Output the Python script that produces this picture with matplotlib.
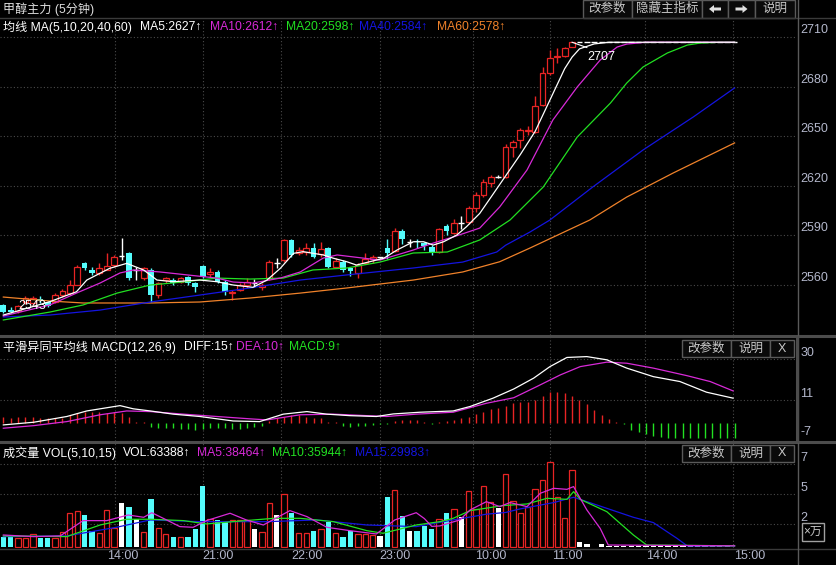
import numpy as np
import matplotlib.pyplot as plt
import matplotlib.transforms as mtrans
from matplotlib.patches import Rectangle, Polygon
from matplotlib.lines import Line2D

plt.rcParams['font.family'] = ['Liberation Sans', 'Noto Sans CJK SC', 'DejaVu Sans']

# ---- 5 minute bars (index = bar number) ----
opens = [2547.8, 2544.7, 2544.0, 2549.8, 2548.8, 2551.5, 2549.8, 2549.8, 2553.8, 2554.8,
         2559.9, 2573.0, 2569.0, 2567.0, 2569.0, 2572.0, 2577.4, 2579.0, 2569.0, 2564.0,
         2569.0, 2553.8, 2562.9, 2562.9, 2561.9, 2564.9, 2560.9, 2571.4, 2566.5, 2568.0,
         2561.9, 2554.8, 2556.8, 2559.9, 2560.9, 2558.5, 2563.9, 2573.0, 2575.0, 2587.1,
         2579.5, 2580.1, 2582.1, 2578.7, 2582.1, 2571.0, 2574.0, 2570.0, 2567.4, 2573.0,
         2575.4, 2576.7, 2582.1, 2580.7, 2592.8, 2586.1, 2586.3, 2585.1, 2583.1, 2580.1,
         2595.6, 2591.6, 2597.3, 2598.0, 2606.4, 2614.4, 2621.5, 2625.6, 2625.6, 2643.7,
         2647.8, 2653.5, 2652.8, 2669.0, 2688.2, 2697.9, 2698.9, 2704.0] + [2707.0] * 22
highs = [2548.5, 2546.7, 2548.0, 2553.0, 2553.0, 2553.0, 2550.5, 2554.8, 2557.2, 2562.9,
         2572.0, 2574.0, 2571.0, 2573.0, 2579.0, 2578.0, 2588.1, 2580.0, 2571.0, 2571.0,
         2570.0, 2562.0, 2565.0, 2564.0, 2565.0, 2565.5, 2562.0, 2572.0, 2570.0, 2569.0,
         2562.9, 2556.8, 2561.0, 2563.9, 2563.3, 2561.0, 2575.0, 2576.0, 2588.0, 2588.0,
         2583.1, 2585.1, 2585.1, 2586.1, 2583.0, 2576.0, 2575.0, 2571.0, 2573.0, 2579.5,
         2578.1, 2577.0, 2587.6, 2594.2, 2593.6, 2587.6, 2587.6, 2586.1, 2584.1, 2594.5,
         2596.9, 2599.7, 2601.7, 2607.5, 2616.5, 2624.0, 2626.6, 2626.5, 2645.4, 2647.8,
         2654.9, 2656.3, 2674.4, 2692.2, 2702.3, 2703.3, 2704.3, 2707.0] + [2707.0] * 22
lows = [2542.7, 2542.7, 2543.0, 2548.5, 2547.5, 2549.0, 2546.5, 2548.8, 2552.8, 2553.8,
        2559.9, 2569.0, 2566.0, 2566.0, 2569.0, 2571.0, 2575.0, 2563.0, 2563.0, 2563.0,
        2549.8, 2551.8, 2561.0, 2560.0, 2560.9, 2560.0, 2555.8, 2564.0, 2565.0, 2561.0,
        2553.8, 2550.8, 2556.0, 2557.8, 2558.9, 2557.0, 2563.0, 2570.0, 2574.0, 2577.0,
        2578.1, 2578.1, 2576.1, 2577.1, 2570.0, 2570.0, 2568.0, 2565.3, 2563.9, 2572.6,
        2573.0, 2576.5, 2575.4, 2580.1, 2584.7, 2583.1, 2582.1, 2581.1, 2578.1, 2579.5,
        2590.2, 2590.8, 2593.6, 2597.0, 2604.4, 2613.4, 2619.5, 2625.0, 2624.6, 2637.7,
        2642.7, 2650.8, 2651.8, 2668.4, 2687.2, 2694.2, 2698.3, 2703.9] + [2707.0] * 22
closes = [2543.7, 2543.5, 2547.0, 2551.8, 2551.8, 2550.0, 2547.1, 2553.8, 2556.2, 2559.9,
          2571.0, 2570.0, 2567.0, 2570.0, 2571.4, 2577.0, 2577.4, 2564.0, 2569.0, 2570.0,
          2553.8, 2560.9, 2563.9, 2560.9, 2563.9, 2560.9, 2558.9, 2564.9, 2568.0, 2562.0,
          2555.8, 2555.8, 2559.9, 2561.9, 2560.9, 2559.9, 2574.0, 2573.0, 2587.1, 2578.1,
          2581.1, 2582.1, 2577.1, 2581.5, 2571.0, 2574.6, 2569.0, 2568.6, 2572.0, 2575.4,
          2576.7, 2576.7, 2579.5, 2592.8, 2587.6, 2586.1, 2586.0, 2583.5, 2580.1, 2593.6,
          2592.8, 2597.7, 2597.3, 2606.5, 2614.4, 2622.5, 2625.2, 2625.6, 2643.7, 2646.4,
          2653.8, 2654.0, 2668.4, 2688.6, 2697.3, 2698.6, 2703.3, 2707.0] + [2707.0] * 22

# volume, x10k
volumes = [0.84, 0.84, 0.75, 0.75, 1.10, 0.81, 0.81, 0.81, 1.28, 2.98,
           3.13, 2.78, 1.42, 1.25, 3.22, 1.62, 3.86, 3.51, 2.43, 1.30,
           4.14, 1.62, 1.10, 0.87, 0.87, 0.87, 1.57, 5.30, 2.43, 2.35,
           2.20, 2.35, 2.35, 2.35, 1.57, 1.33, 3.86, 2.78, 4.61, 2.98,
           1.25, 1.25, 1.42, 1.57, 2.20, 1.25, 0.87, 1.42, 1.13, 1.13,
           1.01, 0.98, 4.38, 4.96, 2.70, 1.42, 1.42, 1.83, 1.57, 2.41,
           2.93, 3.28, 2.64, 4.87, 3.28, 5.30, 3.94, 3.35, 6.34, 3.99,
           2.98, 3.51, 5.01, 5.83, 7.42, 4.38, 2.49, 6.70, 0.46, 0.26,
           0.03, 0.26, 0.10, 0.10, 0.08, 0.10, 0.10, 0.08, 0.10, 0.10,
           0.08, 0.10, 0.10, 0.08, 0.10, 0.10, 0.08, 0.10, 0.12, 0.03]

# MACD histogram
macd_hist = [3.1, 2.7, 3.1, 3.1, 3.1, 2.7, 2.4, 2.4, 2.7, 4.0,
             4.7, 5.2, 5.2, 5.2, 4.7, 5.2, 4.7, 3.1, 0.5, 0.5,
             -1.5, -2.0, -2.0, -2.3, -2.6, -2.9, -3.1, -2.6, -2.3, -2.0,
             -2.3, -2.6, -2.6, -2.3, -1.8, -1.1, 1.1, 2.4, 3.1, 4.0,
             4.0, 3.1, 2.7, 2.4, 0.5, 0.5, -1.1, -1.5, -1.1, -1.1,
             -0.8, -0.4, -0.4, 1.1, 1.6, 1.6, 1.6, 0.5, -0.2, 0.8,
             1.1, 1.6, 2.4, 3.1, 4.3, 5.2, 6.8, 7.1, 8.3, 9.4,
             10.2, 10.2, 11.0, 13.0, 14.6, 14.6, 14.1, 13.0, 11.0, 8.9,
             6.3, 4.0, 2.1, 0.5, -0.4, -3.1, -4.2, -5.1, -5.8, -6.2,
             -6.7, -6.7, -6.7, -6.7, -6.7, -6.7, -6.7, -6.7, -6.7, -6.7]

# price moving averages: (bar, value)
ma5_x = [0, 6.3, 9.9, 11.3, 14.4, 16.7, 19.0, 20.8, 23.0, 26.6, 28.9, 31.1, 33.8, 35.7, 37.5,
         39.3, 40.6, 43.3, 44.7, 46.5, 47.8, 49.6, 51.5, 53.3, 55.5, 56.9, 58.2, 59.6, 61.4,
         62.7, 64.5, 66, 68, 70, 72, 74, 76, 77, 78, 80, 82, 99]
ma5_y = [2541.7, 2549.8, 2555.8, 2562.9, 2570.0, 2573.0, 2569.0, 2562.9, 2561.9, 2562.9,
         2561.9, 2559.9, 2558.5, 2562.9, 2570.0, 2579.1, 2580.1, 2578.1, 2576.1, 2574.0,
         2572.0, 2574.0, 2576.1, 2581.1, 2586.1, 2586.1, 2584.1, 2586.1, 2590.2, 2595.2,
         2603.3, 2613, 2626, 2639, 2653, 2672, 2691, 2698, 2703, 2706, 2707, 2707]
ma10_x = [0, 6.3, 9.9, 13.1, 15.8, 17.6, 21.2, 24.9, 28.9, 31.1, 33.8, 37.5, 40.2, 43.3, 45.2,
          48.7, 51.0, 55.5, 58.2, 60.9, 64.5, 67.2, 68, 70.9, 74.4, 77.7, 80.8, 83.1, 84.4, 87, 99]
ma10_y = [2541.1, 2547.8, 2555.0, 2561.1, 2567.2, 2569.0, 2567.8, 2566.0, 2564.1, 2561.7,
          2561.1, 2564.1, 2567.8, 2576.2, 2578.1, 2576.2, 2575.0, 2581.1, 2585.3, 2589.0,
          2594.4, 2607.2, 2612, 2629.6, 2659.9, 2679.9, 2696.2, 2704.1, 2705.9, 2707, 2707]
ma20_x = [0, 6.3, 10.8, 15.4, 19.9, 24.3, 28.9, 33.4, 37.9, 41.9, 46.5, 51.0, 55.5, 60.1,
          64.5, 68.6, 73.1, 77.7, 82.2, 84.4, 86.6, 89.9, 92.6, 94.3, 97, 99]
ma20_y = [2538.7, 2543.5, 2547.8, 2555.0, 2559.9, 2561.7, 2564.1, 2563.5, 2564.1, 2569.0,
          2570.2, 2573.8, 2579.3, 2579.9, 2587.2, 2599.3, 2619.3, 2649.6, 2670.2, 2682.3,
          2692.0, 2700.5, 2705.3, 2706.5, 2707, 2707]
ma40_x = [0, 6.3, 13.1, 19.9, 26.6, 33.4, 40.2, 46.5, 55.5, 62.2, 66.8, 68, 71.3, 74.0,
          79.8, 86.6, 93.4, 99]
ma40_y = [2540.5, 2541.7, 2544.7, 2549.6, 2553.8, 2558.1, 2562.9, 2566.0, 2570.2, 2573.8,
          2579.9, 2584, 2592.0, 2599.3, 2619.3, 2641.7, 2661.7, 2679.3]
ma60_x = [0, 6.3, 10.8, 19.9, 26.6, 33.4, 40.2, 46.5, 55.5, 62.2, 67.2, 71.3, 79.4, 84.4,
          90.7, 99]
ma60_y = [2552.6, 2550.2, 2549.0, 2549.0, 2549.6, 2552.0, 2555.0, 2558.1, 2562.9, 2567.8,
          2574.0, 2582.3, 2599.3, 2613.2, 2627.8, 2646.0]

# MACD lines
diff_x = [0, 4.1, 8.6, 11.3, 15.8, 17.6, 19.9, 23.0, 26.6, 31.1, 34.7, 37.9, 41.1, 43.8,
          46.9, 50.5, 52.8, 56.4, 60.9, 63.2, 66.3, 69.1, 71.8, 74.0, 76.3, 79.0, 81.7,
          84.4, 88.0, 91.6, 95.2, 98.8]
diff_y = [-0.75, 0.5, 3.2, 5.8, 8.3, 6.8, 5.8, 4.3, 3.2, 1.1, 0.8, 4.3, 5.5, 4.3, 3.6, 3.2,
          4.4, 5.2, 5.8, 7.9, 11.8, 16.1, 21.2, 26.6, 30.9, 31.3, 29.8, 25.9, 21.9, 19.6,
          14.6, 11.8]
dea_x = [0, 4.1, 8.6, 13.1, 16.7, 19.9, 24.4, 28.9, 33.4, 35.7, 40.2, 44.7, 49.2, 51.9,
         55.9, 60.9, 65.4, 69.1, 72.2, 75.4, 78.1, 81.7, 84.4, 88.0, 92.5, 95.7, 98.8]
dea_y = [-2.3, -1.1, 0.8, 4.0, 5.8, 5.5, 4.3, 3.2, 2.1, 1.6, 4.0, 4.3, 3.6, 3.2, 4.3, 5.2,
         9.4, 12.0, 17.2, 22.7, 26.6, 28.7, 28.2, 25.9, 22.4, 19.6, 15.2]

# volume moving averages
vma5_x = [0, 4.1, 7.7, 10.8, 14.0, 16.9, 19.0, 20.1, 22.1, 23.9, 25.7, 27.5, 30.7, 32.9,
          35.2, 38.8, 41.1, 43.8, 46.9, 50.5, 53.0, 55.9, 57, 58, 59.1, 61.8, 63.2, 65.4,
          67.2, 68.6, 70.9, 72.7, 74.5, 76.3, 77.2, 78.1, 79.0, 80.8, 81.9, 99]
vma5_y = [1.04, 0.9, 0.96, 2.29, 2.29, 2.78, 2.58, 2.98, 2.35, 1.77, 1.71, 2.29, 2.93, 2.35,
          1.91, 3.16, 2.64, 1.71, 1.42, 1.13, 2.35, 2.98, 2.47, 1.79, 1.83, 2.35, 3.22, 3.94,
          3.51, 3.86, 3.51, 4.67, 5.1, 5.01, 5.25, 4.23, 3.22, 1.62, 0.17, 0.1]
vma10_x = [0, 8.6, 13.1, 16.7, 19.9, 24.4, 27.5, 31.1, 36.6, 40.2, 44.7, 49.2, 51.4, 55.9,
           59.1, 60.9, 63.2, 67.7, 70.9, 73.6, 76.3, 77.2, 78.1, 81.7, 85.3, 87.1, 99]
vma10_y = [0.96, 0.9, 1.91, 2.41, 2.41, 2.29, 2.0, 2.2, 2.49, 2.49, 2.2, 1.42, 1.19, 1.91,
           2.2, 2.49, 3.16, 3.6, 3.74, 4.23, 4.14, 4.81, 4.14, 3.07, 1.04, 0.17, 0.1]
vma15_x = [0, 8.6, 15.3, 19.9, 26.6, 35.7, 42.4, 49.2, 55.9, 60.9, 65.4, 68, 69.9, 74.5,
           77.2, 79.0, 81.7, 85.3, 88.0, 91.2, 92.6, 99]
vma15_y = [0.9, 0.96, 1.71, 2.35, 2.2, 2.2, 2.35, 1.91, 1.77, 2.35, 2.85, 3.0, 3.3, 3.86,
           4.32, 3.94, 3.36, 2.58, 2.12, 0.75, 0.09, 0.08]

time_pos = [16.2, 29.1, 41.1, 53.0, 66.0, 76.3, 89.2, 101.1]
time_labels = ['14:00', '21:00', '22:00', '23:00', '10:00', '11:00', '14:00', '15:00']
grid_pos = [15.1, 27.0, 37.6, 51.0, 63.6, 74.0, 86.9, 98.8]

price_ticks = [2710, 2680, 2650, 2620, 2590, 2560]
macd_ticks = [30, 11, -7]
vol_ticks = [7.2, 4.6, 2.0]
vol_tick_labels = ['7', '5', '2']

RED = '#e82424'
CYAN = '#54fcfc'
WHITE = '#ffffff'
MAG = '#d82ad8'
GREEN = '#22e022'
BLUE = '#1414e0'
ORANGE = '#f0822a'
TXT = '#c8c8c8'
AXT = '#b4b8cc'
GRID = '#4a4a4a'
FRAME = '#4c4c4c'

W, H = 836, 565


def fx(px):
    return px / W


def fy(py):
    return 1 - py / H


fig = plt.figure(figsize=(W / 100, H / 100), dpi=100, facecolor='black')

ax_main = fig.add_axes([0, fy(335), fx(797), fy(18) - fy(335)])
ax_macd = fig.add_axes([0, fy(441), fx(797), fy(337) - fy(441)])
ax_vol = fig.add_axes([0, fy(548), fx(797), fy(443) - fy(548)])

for ax in (ax_main, ax_macd, ax_vol):
    ax.set_facecolor('black')
    ax.set_xlim(-0.45, 107.45)
    ax.set_xticks([])
    ax.set_yticks([])
    for s in ax.spines.values():
        s.set_visible(False)
    for g in grid_pos:
        ax.axvline(g, color=GRID, lw=0.8, ls=(0, (1, 2)), zorder=0)

ax_main.set_ylim(2529.6, 2721.7)
ax_macd.set_ylim(-8.3, 40.5)
ax_vol.set_ylim(-0.09, 9.04)

o = np.array(opens)
h = np.array(highs)
l = np.array(lows)
c = np.array(closes)
x = np.arange(len(o))
up = c > o
dn = c < o
fl = c == o

# candles
bw = 0.78
ax_main.vlines(x[up], l[up], h[up], color=RED, lw=1, zorder=2)
ax_main.bar(x[up], c[up] - o[up], bottom=o[up], width=bw, facecolor='black',
            edgecolor=RED, linewidth=0.9, zorder=3)
ax_main.vlines(x[dn], l[dn], h[dn], color=CYAN, lw=1, zorder=2)
ax_main.bar(x[dn], o[dn] - c[dn], bottom=c[dn], width=bw, color=CYAN, linewidth=0, zorder=3)
ax_main.vlines(x[fl], l[fl], h[fl], color=WHITE, lw=1, zorder=2)
ax_main.hlines(o[fl], x[fl] - bw / 2, x[fl] + bw / 2, color=WHITE, lw=1, zorder=3)

for mx, my, col in ((ma60_x, ma60_y, ORANGE), (ma40_x, ma40_y, BLUE), (ma20_x, ma20_y, GREEN),
                    (ma10_x, ma10_y, MAG), (ma5_x, ma5_y, WHITE)):
    ax_main.plot(mx, my, color=col, lw=0.9, zorder=4)

for v in price_ticks:
    ax_main.axhline(v, color=GRID, lw=0.8, ls=(0, (1, 2)), zorder=0)
tr = mtrans.blended_transform_factory(ax_main.transAxes, ax_main.transData)
for v in price_ticks:
    ax_main.text(1.004, v + 0.6, str(v), transform=tr, color=AXT, fontsize=9, va='bottom',
                 ha='left', clip_on=False)

# high / low marks
ax_main.plot([77, 79.0], [2707, 2703.8], color=WHITE, lw=0.8, zorder=5)
ax_main.text(79.1, 2698.0, '2707', color=WHITE, fontsize=9, va='center', ha='left', zorder=6)
ax_main.text(2.0, 2547.3, '2543', color=WHITE, fontsize=9, va='center', ha='left', zorder=6)

# MACD
hist = np.array(macd_hist)
ax_macd.vlines(x[hist >= 0], 0, hist[hist >= 0], color=RED, lw=1, zorder=2)
ax_macd.vlines(x[hist < 0], 0, hist[hist < 0], color=GREEN, lw=1, zorder=2)
ax_macd.plot(dea_x, dea_y, color=MAG, lw=0.9, zorder=3)
ax_macd.plot(diff_x, diff_y, color=WHITE, lw=0.9, zorder=4)
for v in macd_ticks[:2]:
    ax_macd.axhline(v, color=GRID, lw=0.8, ls=(0, (1, 2)), zorder=0)
tr = mtrans.blended_transform_factory(ax_macd.transAxes, ax_macd.transData)
for v in macd_ticks:
    ax_macd.text(1.004, v, str(v), transform=tr, color=AXT, fontsize=9, va='bottom',
                 ha='left', clip_on=False)

# volume
vol = np.array(volumes)
ax_vol.bar(x[up], vol[up], width=0.72, facecolor='black', edgecolor=RED, linewidth=0.9, zorder=2)
ax_vol.bar(x[dn], vol[dn], width=0.72, color=CYAN, linewidth=0, zorder=2)
ax_vol.bar(x[fl], vol[fl], width=0.72, color=WHITE, linewidth=0, zorder=2)
ax_vol.plot(vma15_x, vma15_y, color=BLUE, lw=0.9, zorder=3)
ax_vol.plot(vma10_x, vma10_y, color=GREEN, lw=0.9, zorder=4)
ax_vol.plot(vma5_x, vma5_y, color=MAG, lw=0.9, zorder=5)
for v in vol_ticks:
    ax_vol.axhline(v, color=GRID, lw=0.8, ls=(0, (1, 2)), zorder=0)
tr = mtrans.blended_transform_factory(ax_vol.transAxes, ax_vol.transData)
for v, lab in zip(vol_ticks, vol_tick_labels):
    ax_vol.text(1.004, v, lab, transform=tr, color=AXT, fontsize=9, va='bottom',
                ha='left', clip_on=False)

tr = mtrans.blended_transform_factory(ax_vol.transData, ax_vol.transAxes)
for p, lab in zip(time_pos, time_labels):
    ax_vol.text(p, -0.08, lab, transform=tr, color=AXT, fontsize=9, va='center',
                ha='center', clip_on=False)

# frames
def hline(py, x0, x1, col=FRAME, lw=1.0):
    fig.add_artist(Line2D([fx(x0), fx(x1)], [fy(py), fy(py)], color=col, lw=lw))


def vline(px, y0, y1, col=FRAME, lw=1.0):
    fig.add_artist(Line2D([fx(px), fx(px)], [fy(y0), fy(y1)], color=col, lw=lw))


hline(18, 0, 836, '#3a3a3a')
hline(336, 0, 836, FRAME, 2.2)
hline(442, 0, 836, FRAME, 2.2)
hline(548.5, 0, 836, '#3a3a3a')
vline(798, 0, 565, '#5a5a5a')
vline(796.5, 337, 441, FRAME, 2.2)


def button(x0, x1, y0, y1, label, fs=9):
    fig.add_artist(Rectangle((fx(x0), fy(y1)), fx(x1) - fx(x0), fy(y0) - fy(y1),
                             facecolor='#0a0a0a', edgecolor='#5a5a5a', lw=1))
    if label:
        fig.text(fx((x0 + x1) / 2), fy((y0 + y1) / 2), label, color=TXT, fontsize=fs,
                 ha='center', va='center')


def arrow(cx, cy, d):
    pts = [(-6, 0), (-1, -4), (-1, -1.5), (6, -1.5), (6, 1.5), (-1, 1.5), (-1, 4)]
    fig.add_artist(Polygon([(fx(cx + d * px), fy(cy + py)) for px, py in pts], closed=True,
                           facecolor='#e0e0e0', edgecolor='none'))


button(583, 632, 0, 18, '改参数')
button(632, 702, 0, 18, '隐藏主指标')
button(702, 728, 0, 18, '')
button(728, 755, 0, 18, '')
button(755, 795, 0, 18, '说明')
arrow(715, 9, 1)
arrow(741.5, 9, -1)
for yy in (340, 445):
    button(682, 731, yy, yy + 17, '改参数')
    button(731, 770, yy, yy + 17, '说明')
    button(770, 794, yy, yy + 17, 'X')

fig.add_artist(Rectangle((fx(802), fy(541)), fx(824) - fx(802), fy(523) - fy(541),
                         facecolor='black', edgecolor='#a0a0a0', lw=1))
fig.text(fx(813), fy(532), '×万', color=TXT, fontsize=8.5, ha='center', va='center')

# headers
fs = 8.7
fig.text(fx(3), fy(9), '甲醇主力 (5分钟)', color='#e0e0e0', fontsize=fs, va='center')


def header(py, parts):
    for px, s, col in parts:
        fig.text(fx(px), fy(py), s, color=col, fontsize=fs, va='center', ha='left')


header(27, [(3, '均线 MA(5,10,20,40,60)', WHITE), (140, 'MA5:2627↑', WHITE),
            (210, 'MA10:2612↑', MAG), (286, 'MA20:2598↑', GREEN),
            (359, 'MA40:2584↑', BLUE), (437, 'MA60:2578↑', ORANGE)])
header(347, [(3, '平滑异同平均线 MACD(12,26,9)', WHITE), (184, 'DIFF:15↑', WHITE),
             (236, 'DEA:10↑', MAG), (289, 'MACD:9↑', GREEN)])
header(453, [(3, '成交量 VOL(5,10,15)', WHITE), (123, 'VOL:63388↑', WHITE),
             (197, 'MA5:38464↑', MAG), (272, 'MA10:35944↑', GREEN),
             (355, 'MA15:29983↑', BLUE)])

fig.savefig('out.png', dpi=100, facecolor='black')
